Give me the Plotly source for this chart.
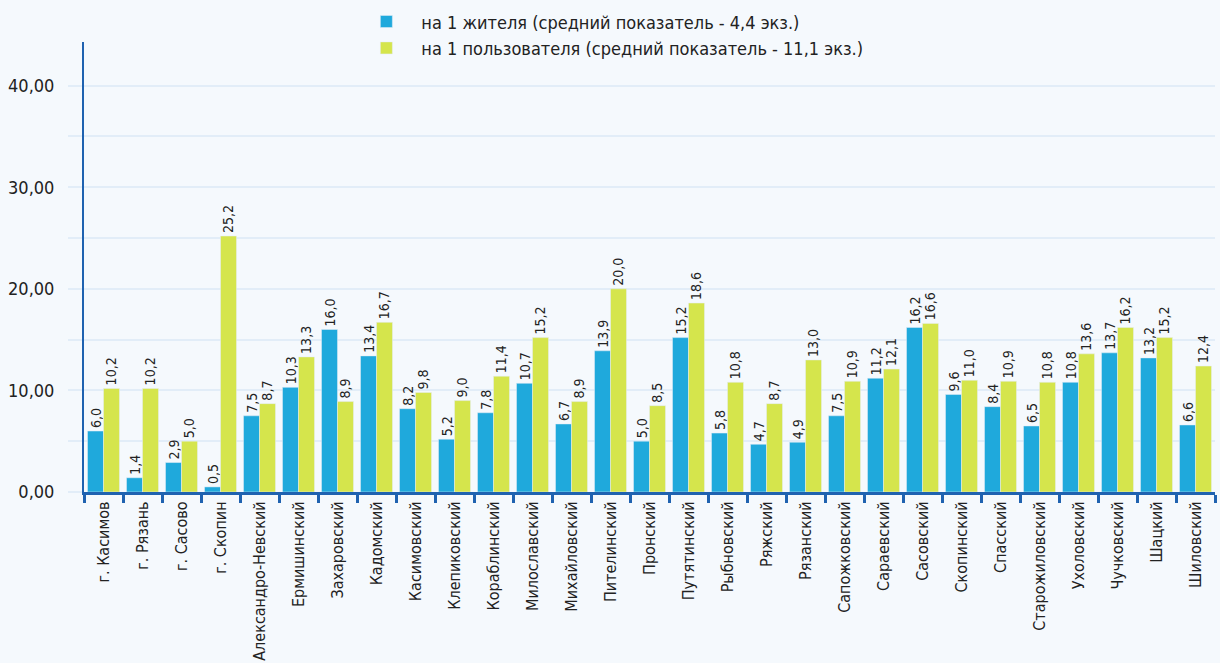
import plotly.graph_objects as go

districts = [
    "г. Касимов", "г. Рязань", "г. Сасово", "г. Скопин", "Александро-Невский",
    "Ермишинский", "Захаровский", "Кадомский", "Касимовский", "Клепиковский",
    "Кораблинский", "Милославский", "Михайловский", "Пителинский", "Пронский",
    "Путятинский", "Рыбновский", "Ряжский", "Рязанский", "Сапожковский",
    "Сараевский", "Сасовский", "Скопинский", "Спасский", "Старожиловский",
    "Ухоловский", "Чучковский", "Шацкий", "Шиловский",
]
per_resident = [
    6.0, 1.4, 2.9, 0.5, 7.5, 10.3, 16.0, 13.4, 8.2, 5.2,
    7.8, 10.7, 6.7, 13.9, 5.0, 15.2, 5.8, 4.7, 4.9, 7.5,
    11.2, 16.2, 9.6, 8.4, 6.5, 10.8, 13.7, 13.2, 6.6,
]
per_user = [
    10.2, 10.2, 5.0, 25.2, 8.7, 13.3, 8.9, 16.7, 9.8, 9.0,
    11.4, 15.2, 8.9, 20.0, 8.5, 18.6, 10.8, 8.7, 13.0, 10.9,
    12.1, 16.6, 11.0, 10.9, 10.8, 13.6, 16.2, 15.2, 12.4,
]
names = [
    "на 1 жителя (средний показатель - 4,4 экз.)",
    "на 1 пользователя (средний показатель - 11,1 экз.)",
]

FONT = "DejaVu Sans Condensed, Liberation Sans Narrow, sans-serif"
BLUE_AXIS = "#1f62b0"
GRID = "#e2edf8"
BG = "#f5f9fd"

fig = go.Figure()
fig.add_bar(
    x=districts, y=per_resident, name=names[0],
    marker_color="#1fa9dc",
    texttemplate="%{y:.1f}", textposition="outside", textangle=-90,
    textfont=dict(size=14, color="#222"), cliponaxis=False,
)
fig.add_bar(
    x=districts, y=per_user, name=names[1],
    marker_color="#d5e54c",
    texttemplate="%{y:.1f}", textposition="outside", textangle=-90,
    textfont=dict(size=14, color="#222"), cliponaxis=False,
)

fig.update_layout(
    width=1220, height=663,
    margin=dict(l=84, r=5, t=42, b=171, autoexpand=False),
    paper_bgcolor=BG, plot_bgcolor=BG,
    font=dict(family=FONT, color="#222"),
    separators=", ",
    barmode="group", bargap=0.18, bargroupgap=0,
    legend=dict(
        x=0.288, y=0.995, xref="container", yref="container",
        xanchor="left", yanchor="top",
        font=dict(size=18), bgcolor="rgba(0,0,0,0)",
        itemwidth=60, tracegroupgap=3,
    ),
    uniformtext=dict(minsize=14, mode="show"),
)
fig.update_yaxes(
    range=[0, 44.3], dtick=10, tickformat=".2f",
    showgrid=True, gridcolor=GRID, gridwidth=2,
    minor=dict(dtick=5, showgrid=True, gridcolor=GRID, gridwidth=2,
               ticks="outside", ticklen=14, tickcolor=GRID, tickwidth=2),
    ticks="outside", ticklen=14, tickcolor=GRID, tickwidth=2,
    ticklabelstandoff=10,
    showline=True, linecolor=BLUE_AXIS, linewidth=2,
    zeroline=False, tickfont=dict(size=18, color="#222"),
)
fig.update_xaxes(
    tickangle=-90, tickson="boundaries", ticks="outside", ticklen=8,
    tickwidth=3, tickcolor=BLUE_AXIS,
    showline=True, linecolor=BLUE_AXIS, linewidth=3,
    tickfont=dict(size=16, color="#222"),
)

fig.write_html(
    "out.html",
    config={"displayModeBar": False},
    post_script="document.body.style.margin='0';",
)
